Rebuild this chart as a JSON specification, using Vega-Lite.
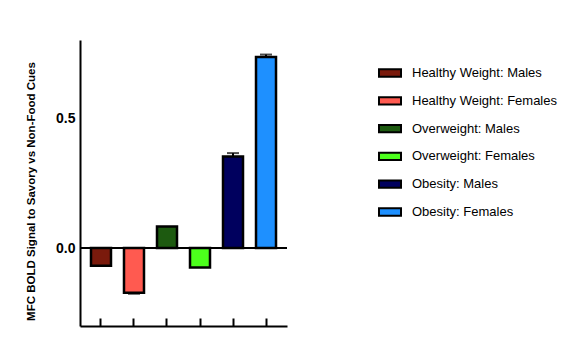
{
  "$schema": "https://vega.github.io/schema/vega-lite/v6.json",
  "width": 207,
  "height": 286,
  "autosize": {"type": "none"},
  "padding": {"left": 80, "top": 40, "right": 294, "bottom": 28},
  "background": "white",
  "config": {"view": {"stroke": null}, "font": "Liberation Sans"},
  "data": {
    "values": [
      {"group": "Healthy Weight: Males", "value": -0.068, "top": null},
      {"group": "Healthy Weight: Females", "value": -0.172, "top": -0.176},
      {"group": "Overweight: Males", "value": 0.083, "top": null},
      {"group": "Overweight: Females", "value": -0.075, "top": null},
      {"group": "Obesity: Males", "value": 0.352, "top": 0.365},
      {"group": "Obesity: Females", "value": 0.735, "top": 0.744}
    ]
  },
  "encoding": {
    "x": {
      "field": "group",
      "type": "nominal",
      "sort": null,
      "scale": {"paddingInner": 0.394, "paddingOuter": 0.333},
      "axis": {
        "title": null,
        "labels": false,
        "tickSize": -8,
        "tickWidth": 2,
        "tickColor": "black",
        "domainWidth": 2,
        "domainColor": "black"
      }
    }
  },
  "layer": [
    {
      "mark": {"type": "bar", "stroke": "black", "strokeWidth": 2.5},
      "encoding": {
        "y": {
          "field": "value",
          "type": "quantitative",
          "scale": {"domain": [-0.3, 0.8], "nice": false, "zero": false},
          "axis": {
            "title": "MFC BOLD Signal to Savory vs Non-Food Cues",
            "titleFontSize": 11.5,
            "titleFontWeight": "bold",
            "titleColor": "black",
            "titleBaseline": "middle",
            "titleAngle": -90,
            "titleX": -49,
            "titleY": 151,
            "values": [0, 0.5],
            "format": ".1f",
            "labelFontSize": 14,
            "labelFontWeight": "bold",
            "labelColor": "black",
            "labelPadding": 5,
            "ticks": false,
            "grid": false,
            "domainWidth": 2,
            "domainColor": "black"
          }
        },
        "color": {
          "field": "group",
          "type": "nominal",
          "sort": null,
          "scale": {
            "domain": ["Healthy Weight: Males", "Healthy Weight: Females", "Overweight: Males", "Overweight: Females", "Obesity: Males", "Obesity: Females"],
            "range": ["#7a1a0c", "#ff5a50", "#1d5a10", "#4cff1c", "#00005e", "#1e90ff"]
          },
          "legend": {
            "title": null,
            "orient": "none",
            "legendX": 298,
            "legendY": 21,
            "symbolType": "M-1,-0.33H1V0.33H-1Z",
            "symbolSize": 484,
            "symbolStrokeColor": "black",
            "symbolStrokeWidth": 2,
            "symbolOpacity": 1,
            "labelFontSize": 13,
            "labelColor": "black",
            "labelOffset": 10,
            "labelLimit": 250,
            "rowPadding": 7.8,
            "padding": 0
          }
        }
      }
    },
    {
      "mark": {"type": "rule", "color": "black", "strokeWidth": 2},
      "transform": [{"filter": "datum.top != null"}],
      "encoding": {
        "y": {"field": "value", "type": "quantitative"},
        "y2": {"field": "top"}
      }
    },
    {
      "mark": {"type": "tick", "color": "black", "thickness": 2, "size": 12, "orient": "horizontal"},
      "transform": [{"filter": "datum.top != null"}],
      "encoding": {
        "y": {"field": "top", "type": "quantitative"}
      }
    },
    {
      "data": {"values": [{"zero": 0}]},
      "mark": {"type": "rule", "color": "black", "strokeWidth": 2},
      "encoding": {
        "x": null,
        "y": {"field": "zero", "type": "quantitative"}
      }
    }
  ]
}
